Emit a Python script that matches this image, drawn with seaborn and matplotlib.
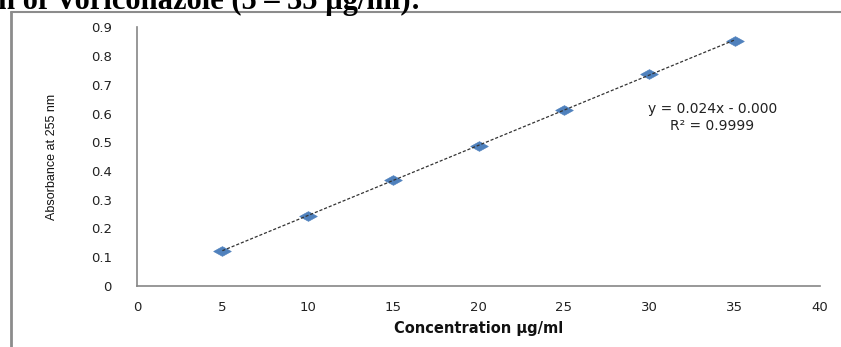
import matplotlib
matplotlib.use("Agg")
import matplotlib.pyplot as plt
from matplotlib.lines import Line2D
import numpy as np
import pandas as pd
import seaborn as sns

# calibration data
concentration = [5, 10, 15, 20, 25, 30, 35]
absorbance = [0.122, 0.244, 0.368, 0.487, 0.612, 0.738, 0.854]
x_ticks = [0, 5, 10, 15, 20, 25, 30, 35, 40]
y_ticks = [0, 0.1, 0.2, 0.3, 0.4, 0.5, 0.6, 0.7, 0.8, 0.9]
y_tick_labels = ["0", "0.1", "0.2", "0.3", "0.4", "0.5", "0.6", "0.7", "0.8", "0.9"]
equation_text = "y = 0.024x - 0.000"
r2_text = "R² = 0.9999"

df = pd.DataFrame({"conc": concentration, "abs": absorbance})

sns.set_theme(style="white")
plt.rcParams["font.family"] = ["DejaVu Sans"]

W, H = 841, 347
fig = plt.figure(figsize=(W / 100, H / 100), dpi=100)
ax = fig.add_axes([137 / W, 61.3 / H, (820 - 137) / W, (285.7 - 27.5) / H])

# excel-like flat diamond marker
diamond = [(-1, 0), (0, 0.55), (1, 0), (0, -0.55), (-1, 0)]
sns.scatterplot(data=df, x="conc", y="abs", marker=diamond, s=160,
                color="#4F81BD", edgecolor="#4F81BD", linewidth=0.5, ax=ax, zorder=2)
sns.regplot(data=df, x="conc", y="abs", scatter=False, ci=None, truncate=True, ax=ax,
            line_kws=dict(color="#333333", lw=0.9, ls=(0, (2.5, 1.5)), zorder=3))

ax.set_xlim(0, 40)
ax.set_ylim(0, 0.9)
ax.set_xticks(x_ticks)
ax.set_xticklabels([str(t) for t in x_ticks])
ax.set_yticks(y_ticks)
ax.set_yticklabels(y_tick_labels)
ax.tick_params(axis="x", length=0, pad=11, labelsize=9.5, colors="#222222")
ax.tick_params(axis="y", length=0, pad=18, labelsize=9.5, colors="#222222")

for side in ["top", "right"]:
    ax.spines[side].set_visible(False)
for side in ["left", "bottom"]:
    ax.spines[side].set_color("#868686")
    ax.spines[side].set_linewidth(1.2)

ax.set_xlabel("Concentration µg/ml", fontsize=10.5, fontweight="bold", color="#111111", labelpad=5)
ax.set_ylabel("Absorbance at 255 nm", fontsize=9, color="#111111", labelpad=24,
              family=["Liberation Sans", "DejaVu Sans"])

ax.text(33.7, 0.616, equation_text, ha="center", va="center", fontsize=10, color="#222222")
ax.text(33.7, 0.557, r2_text, ha="center", va="center", fontsize=10, color="#222222")

# page fragment: clipped heading and outer frame of the pasted chart
fig.text(-2 / W, 1 - 9 / H, "n of Voriconazole (5 – 35 µg/ml):", ha="left", va="baseline",
         fontsize=22, fontweight="bold", family=["Liberation Serif", "DejaVu Serif"], color="black")
fig.add_artist(Line2D([10.5 / W, 10.5 / W], [0, 1 - 12 / H], color="#8c8c8c", lw=2))
fig.add_artist(Line2D([10.5 / W, 1], [1 - 12 / H, 1 - 12 / H], color="#8c8c8c", lw=1.5))

fig.savefig("out.png", dpi=100)
